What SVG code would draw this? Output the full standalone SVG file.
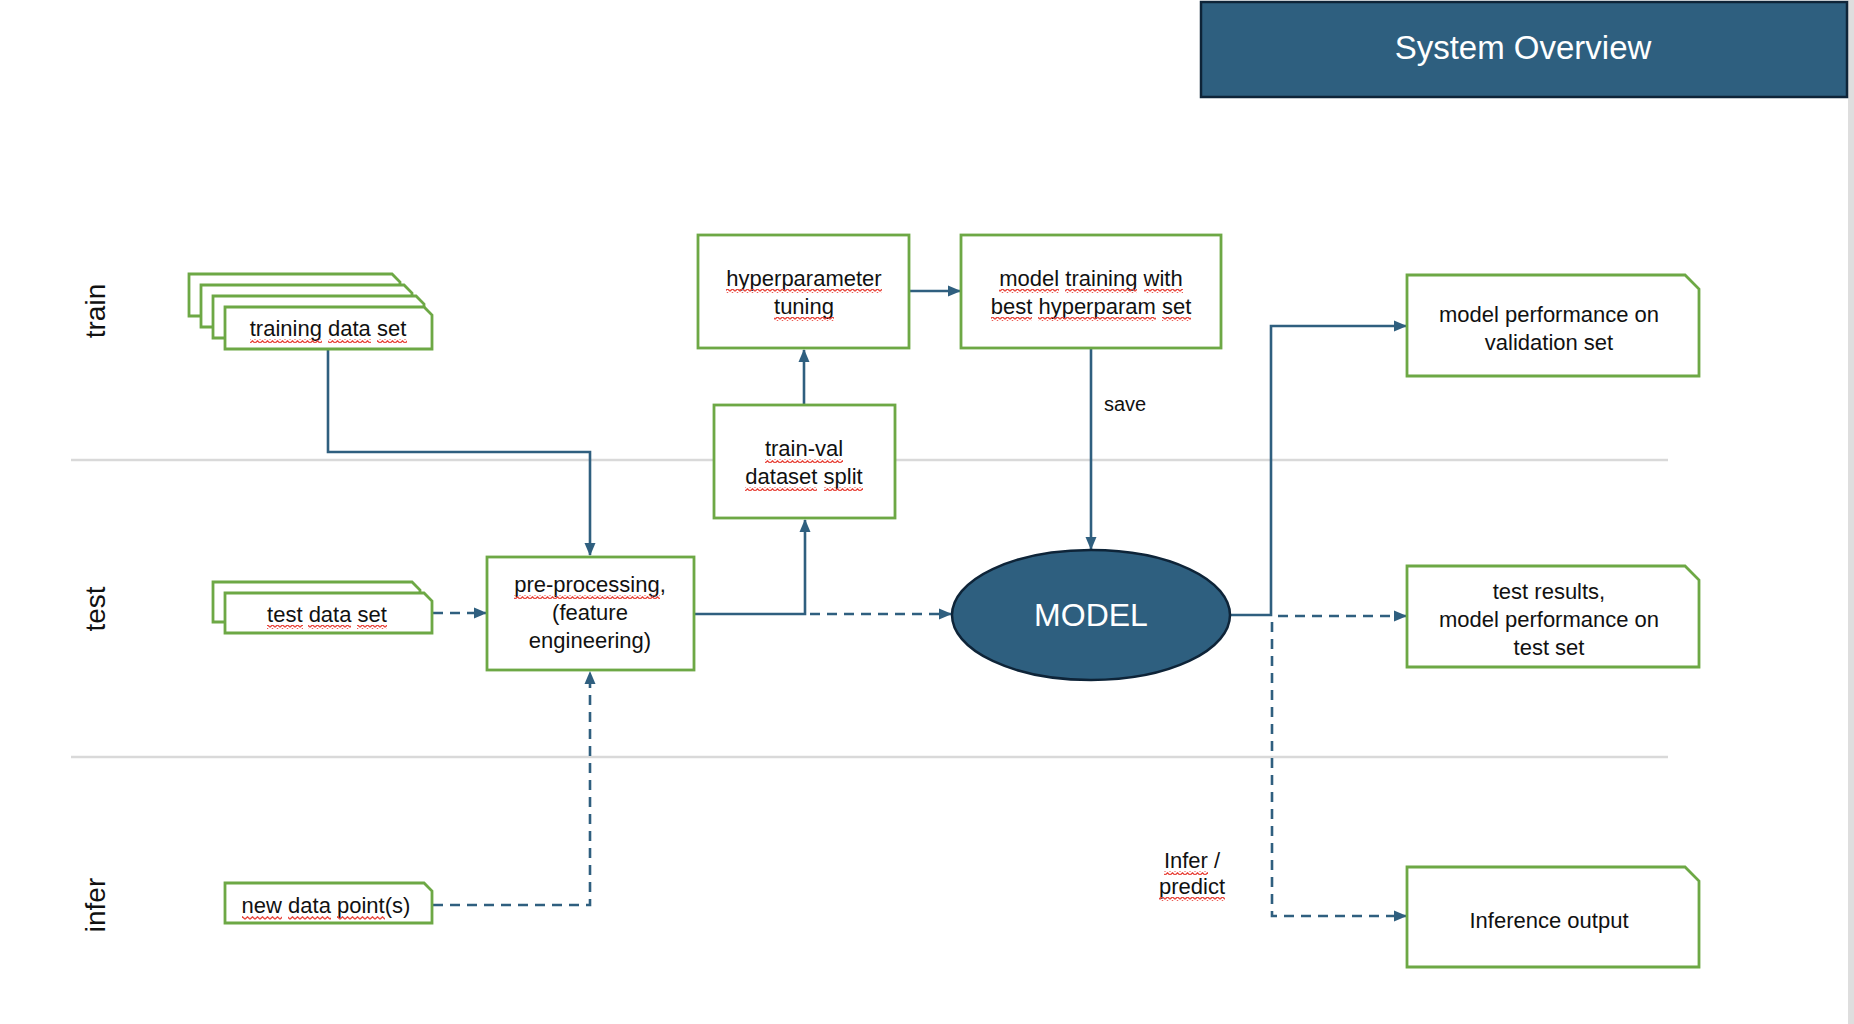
<svg xmlns="http://www.w3.org/2000/svg" width="1854" height="1024" viewBox="0 0 1854 1024">
<style>
.box{fill:#fff;stroke:#6DA845;stroke-width:2.8}
.t{font-family:"Liberation Sans",Arial,sans-serif;font-size:22px;fill:#111;text-anchor:middle}
.lane{font-family:"Liberation Sans",Arial,sans-serif;font-size:28px;fill:#111;text-anchor:middle}
.conn{fill:none;stroke:#2F5F7F;stroke-width:2.6}
.dash{stroke-dasharray:10 7}
.sq{fill:url(#squig)}
.sep{stroke:#D9D9D9;stroke-width:2.5}
</style>
<defs>
<marker id="arr" markerUnits="userSpaceOnUse" markerWidth="13" markerHeight="12" refX="12" refY="6" orient="auto">
<path d="M0,0.5 L13,6 L0,11.5 z" fill="#2F5F7F"/>
</marker>
<pattern id="squig" patternUnits="userSpaceOnUse" x="0" y="0" width="5" height="4">
<path d="M0,3.2 L2.5,0.8 L5,3.2" fill="none" stroke="#E8453C" stroke-width="1.3"/>
</pattern>
</defs>
<rect width="1854" height="1024" fill="#fff"/>
<rect x="1848" y="0" width="6" height="1024" fill="#DEDEDE"/>

<g id="title">
<rect x="1201" y="2" width="646" height="95" fill="#2E5F7F" stroke="#0E2438" stroke-width="2.5"/>
<text x="1523" y="59" font-family="'Liberation Sans',Arial,sans-serif" font-size="33" fill="#fff" text-anchor="middle">System Overview</text>
</g>

<g id="lanes">
<line class="sep" x1="71" y1="460" x2="1668" y2="460"/>
<line class="sep" x1="71" y1="757" x2="1668" y2="757"/>
<text class="lane" transform="translate(95,311) rotate(-90)" y="10">train</text>
<text class="lane" transform="translate(95,609) rotate(-90)" y="10">test</text>
<text class="lane" transform="translate(95,905) rotate(-90)" y="10">infer</text>
</g>

<g id="connectors">
<path class="conn" d="M328,350 V452 H590 V555" marker-end="url(#arr)"/>
<path class="conn dash" d="M433,613 H486" marker-end="url(#arr)"/>
<path class="conn" d="M694,614 H805 V520" marker-end="url(#arr)"/>
<path class="conn" d="M804,405 V350" marker-end="url(#arr)"/>
<path class="conn" d="M909,291 H960" marker-end="url(#arr)"/>
<path class="conn dash" d="M810,614 H951" marker-end="url(#arr)"/>
<path class="conn" d="M1091,349 V549" marker-end="url(#arr)"/>
<path class="conn" d="M1231,615 H1271 V326 H1406" marker-end="url(#arr)"/>
<path class="conn dash" d="M1278,616 H1406" marker-end="url(#arr)"/>
<path class="conn dash" d="M1272,622 V916 H1406" marker-end="url(#arr)"/>
<path class="conn dash" d="M433,905 H590 V672" marker-end="url(#arr)"/>
</g>

<g id="training-data-set">
<path class="box" d="M189,274 H392 L400,282 V316 H189 Z"/>
<path class="box" d="M201,285 H404 L412,293 V327 H201 Z"/>
<path class="box" d="M213,296 H416 L424,304 V338 H213 Z"/>
<path class="box" d="M225,307 H424 L432,315 V349 H225 Z"/>
<text class="t" x="328" y="336">training data set</text>
<rect class="sq" x="250" y="339" width="72" height="4"/>
<rect class="sq" x="328" y="339" width="43" height="4"/>
<rect class="sq" x="377" y="339" width="30" height="4"/>
</g>

<g id="test-data-set">
<path class="box" d="M213,582 H412 L420,590 V622 H213 Z"/>
<path class="box" d="M225,593 H424 L432,601 V633 H225 Z"/>
<text class="t" x="327" y="622">test data set</text>
<rect class="sq" x="267" y="625" width="36" height="4"/>
<rect class="sq" x="308" y="625" width="43" height="4"/>
<rect class="sq" x="357" y="625" width="30" height="4"/>
</g>

<g id="new-data-points">
<path class="box" d="M225,883 H424 L432,891 V923 H225 Z"/>
<text class="t" x="326" y="913">new data point(s)</text>
<rect class="sq" x="242" y="916" width="40" height="4"/>
<rect class="sq" x="288" y="916" width="43" height="4"/>
<rect class="sq" x="337" y="916" width="48" height="4"/>
</g>

<g id="pre-processing">
<rect class="box" x="487" y="557" width="207" height="113"/>
<text class="t" x="590" y="592">pre-processing,</text>
<text class="t" x="590" y="620">(feature</text>
<text class="t" x="590" y="648">engineering)</text>
<rect class="sq" x="514" y="595" width="146" height="4"/>
</g>

<g id="train-val-split">
<rect class="box" x="714" y="405" width="181" height="113"/>
<text class="t" x="804" y="456">train-val</text>
<text class="t" x="804" y="484">dataset split</text>
<rect class="sq" x="765" y="459" width="78" height="4"/>
<rect class="sq" x="745" y="487" width="72" height="4"/>
<rect class="sq" x="824" y="487" width="39" height="4"/>
</g>

<g id="hyperparameter-tuning">
<rect class="box" x="698" y="235" width="211" height="113"/>
<text class="t" x="804" y="286">hyperparameter</text>
<text class="t" x="804" y="314">tuning</text>
<rect class="sq" x="726" y="289" width="156" height="4"/>
<rect class="sq" x="774" y="317" width="60" height="4"/>
</g>

<g id="model-training">
<rect class="box" x="961" y="235" width="260" height="113"/>
<text class="t" x="1091" y="286">model training with</text>
<text class="t" x="1091" y="314">best hyperparam set</text>
<rect class="sq" x="999" y="289" width="60" height="4"/>
<rect class="sq" x="1065" y="289" width="72" height="4"/>
<rect class="sq" x="1144" y="289" width="39" height="4"/>
<rect class="sq" x="991" y="317" width="41" height="4"/>
<rect class="sq" x="1038" y="317" width="118" height="4"/>
<rect class="sq" x="1162" y="317" width="29" height="4"/>
</g>

<g id="save-label">
<text class="t" x="1104" y="411" style="text-anchor:start;font-size:20px">save</text>
</g>

<g id="model">
<ellipse cx="1091" cy="615" rx="139" ry="65" fill="#2E5F7F" stroke="#0E2438" stroke-width="2.5"/>
<text x="1091" y="626" font-family="'Liberation Sans',Arial,sans-serif" font-size="32" fill="#fff" text-anchor="middle">MODEL</text>
</g>

<g id="infer-label">
<text class="t" x="1192" y="868">Infer /</text>
<text class="t" x="1192" y="894">predict</text>
<rect class="sq" x="1164" y="871" width="44" height="4"/>
<rect class="sq" x="1159" y="897" width="66" height="4"/>
</g>

<g id="validation-performance">
<path class="box" d="M1407,275 H1685 L1699,289 V376 H1407 Z"/>
<text class="t" x="1549" y="322">model performance on</text>
<text class="t" x="1549" y="350">validation set</text>
</g>

<g id="test-results">
<path class="box" d="M1407,566 H1685 L1699,580 V667 H1407 Z"/>
<text class="t" x="1549" y="599">test results,</text>
<text class="t" x="1549" y="627">model performance on</text>
<text class="t" x="1549" y="655">test set</text>
</g>

<g id="inference-output">
<path class="box" d="M1407,867 H1685 L1699,881 V967 H1407 Z"/>
<text class="t" x="1549" y="928">Inference output</text>
</g>
</svg>
